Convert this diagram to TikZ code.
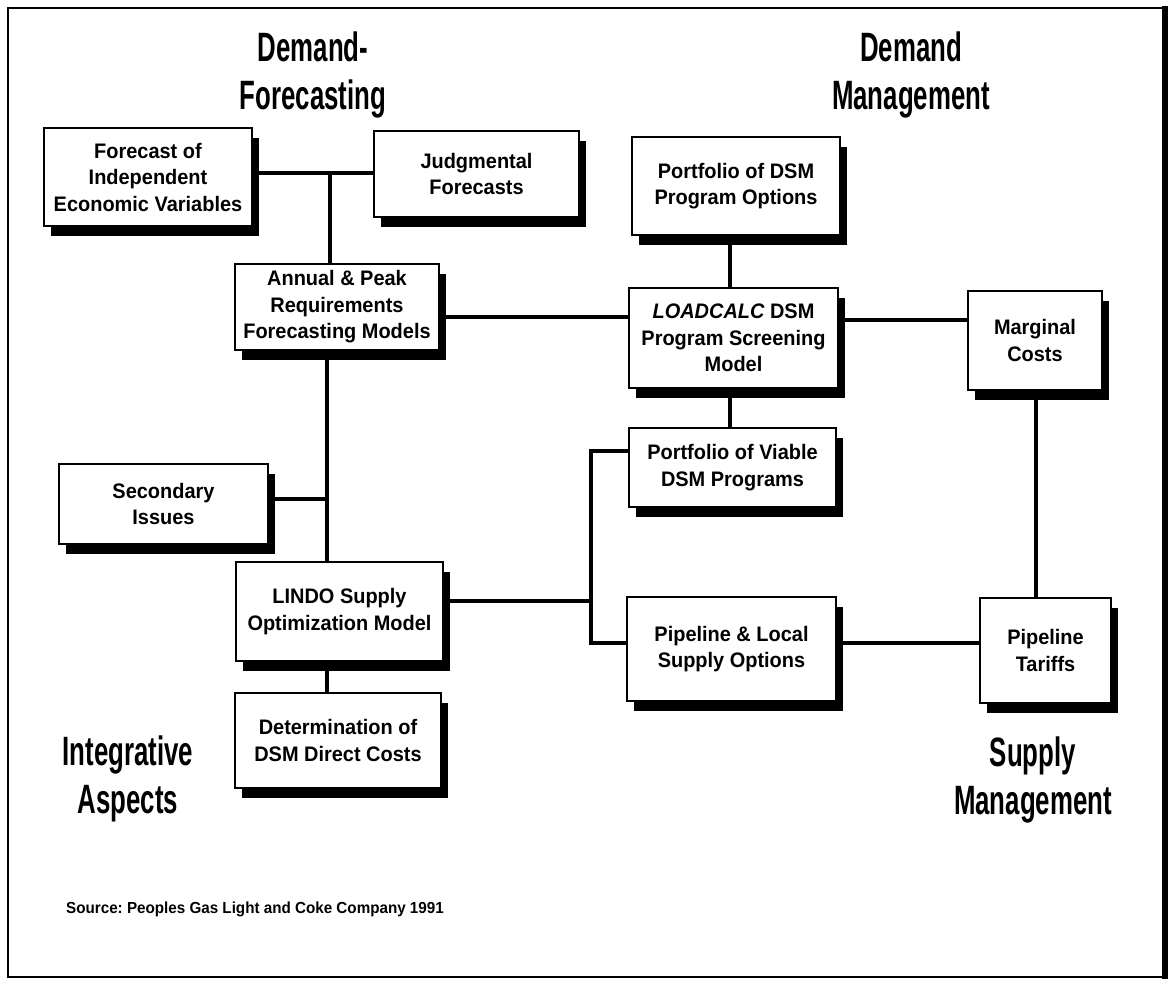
\documentclass[tikz,border=0pt]{standalone}
\usepackage{fontspec}
\setmainfont{Liberation Sans}
\newfontfamily\headfont[FakeStretch=0.63]{Liberation Sans}
\newfontfamily\boxfont[FakeStretch=0.95]{Liberation Sans}
\usetikzlibrary{shadows}
\frenchspacing

\tikzset{
  box/.style={draw, line width=1.8pt, fill=white, align=center, inner sep=0pt,
    font=\boxfont\bfseries\fontsize{21}{26.5}\selectfont,
    drop shadow={shadow xshift=7pt, shadow yshift=-10pt, fill=black, opacity=1}},
  head/.style={align=center, inner sep=0pt,
    font=\headfont\bfseries\fontsize{41}{48}\selectfont},
  link/.style={line width=3.5pt},
}

\begin{document}
\begin{tikzpicture}[x=1pt, y=-1pt]
  \useasboundingbox (0,0) rectangle (1174,985);

  % frame, heavier on the right
  \draw[line width=2.5pt] (8,8) rectangle (1165,977);
  \draw[line width=6pt] (1165,6) -- (1165,979);

  % quadrant headings
  \node[head] (hdf) at (313,75) {Demand-\\Forecasting};
  \node[head] (hdm) at (911,75) {Demand\\Management};
  \node[head] (hia) at (128,779) {Integrative\\Aspects};
  \node[head] (hsm) at (1033,780) {Supply\\Management};

  % boxes
  \node[box, minimum width=208pt, minimum height=98pt] (F) at (148,177)
    {Forecast of\\Independent\\Economic Variables};
  \node[box, minimum width=205pt, minimum height=86pt] (J) at (476.5,174)
    {Judgmental\\Forecasts};
  \node[box, minimum width=208pt, minimum height=98pt] (P) at (736,186)
    {Portfolio of DSM\\Program Options};
  \node[box, minimum width=204pt, minimum height=86pt] (A) at (337,307)
    {Annual \& Peak\\Requirements\\Forecasting Models};
  \node[box, minimum width=209pt, minimum height=100pt] (L) at (733.5,338)
    {\itshape LOADCALC\upshape{} DSM\\Program Screening\\Model};
  \node[box, minimum width=134pt, minimum height=99pt] (M) at (1035,340.5)
    {Marginal\\Costs};
  \node[box, minimum width=207pt, minimum height=79pt] (V) at (732.5,467.5)
    {Portfolio of Viable\\DSM Programs};
  \node[box, minimum width=209pt, minimum height=80pt] (S) at (163.5,504)
    {Secondary\\Issues};
  \node[box, minimum width=207pt, minimum height=99pt] (LI) at (339.5,611.5)
    {LINDO Supply\\Optimization Model};
  \node[box, minimum width=209pt, minimum height=104pt] (PL) at (731.5,649)
    {Pipeline \& Local\\Supply Options};
  \node[box, minimum width=131pt, minimum height=105pt] (T) at (1045.5,650.5)
    {Pipeline\\Tariffs};
  \node[box, minimum width=206pt, minimum height=95pt] (D) at (338,740.5)
    {Determination of\\DSM Direct Costs};

  % junction points of the connector network
  \coordinate (fj) at (330,173);
  \coordinate (trunk) at (327,499);
  \coordinate (al) at (0,317);
  \coordinate (lm) at (0,320);
  \coordinate (vx) at (730,0);
  \coordinate (mx) at (1036,0);
  \coordinate (br) at (591,601);
  \coordinate (btop) at (591,451);
  \coordinate (bbot) at (591,643);

  % connectors
  \draw[link] (F.east |- fj) -- (J.west |- fj);
  \draw[link] (fj) -- (A.north -| fj);
  \draw[link] (A.south -| trunk) -- (LI.north -| trunk);
  \draw[link] (S.east |- trunk) -- (trunk);
  \draw[link] (LI.south -| trunk) -- (D.north -| trunk);
  \draw[link] (A.east |- al) -- (L.west |- al);
  \draw[link] (L.east |- lm) -- (M.west |- lm);
  \draw[link] (P.south -| vx) -- (L.north -| vx);
  \draw[link] (L.south -| vx) -- (V.north -| vx);
  \draw[link] (LI.east |- br) -- (br);
  \draw[link] (V.west |- btop) -- (btop) -- (bbot) -- (PL.west |- bbot);
  \draw[link] (PL.east |- bbot) -- (T.west |- bbot);
  \draw[link] (M.south -| mx) -- (T.north -| mx);

  % source note
  \node[anchor=base west, inner sep=0pt, font=\boxfont\bfseries\fontsize{16}{19}\selectfont]
    (src) at (66,913) {Source: Peoples Gas Light and Coke Company 1991};
\end{tikzpicture}
\end{document}
